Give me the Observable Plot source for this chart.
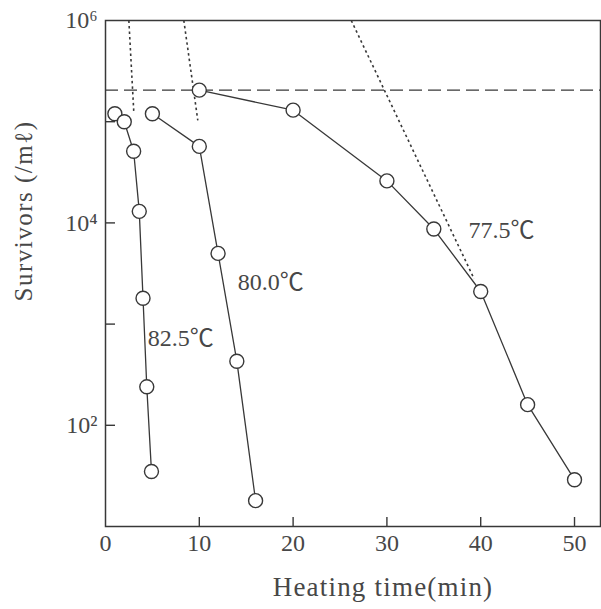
<!DOCTYPE html>
<html><head><meta charset="utf-8">
<script src="https://cdn.jsdelivr.net/npm/d3@7"></script>
<script src="https://cdn.jsdelivr.net/npm/@observablehq/plot@0.6"></script>
<style>body{margin:0;background:#fff} svg{display:block}</style>
</head><body><div id="chart"></div>
<script>
// Survivor curves (survivors per mL vs heating time, min)
const time825 = [1, 2, 3, 3.6, 4, 4.4, 4.9];
const surv825 = [1.2e5, 1.0e5, 5.1e4, 1.3e4, 1.8e3, 240, 35];
const time800 = [5, 10, 12, 14, 16];
const surv800 = [1.2e5, 5.7e4, 5e3, 430, 18];
const time775 = [10, 20, 30, 35, 40, 45, 50];
const surv775 = [2.05e5, 1.3e5, 2.6e4, 8.7e3, 2.1e3, 160, 29];
const initialCount = 2.05e5;
// extrapolated (dotted) lines: start and end points
const dotStartTime = [2.49, 8.35, 26.2];
const dotStartSurv = [1e6, 1e6, 1e6];
const dotEndTime = [3.02, 9.84, 39.3];
const dotEndSurv = [1.23e5, 1.03e5, 2.8e3];
// curve labels
const curveNames = ["82.5℃", "80.0℃", "77.5℃"];
const labelTime = [4.5, 14.1, 38.7];
const labelSurv = [730, 2.6e3, 8.5e3];
// axes
const xTickLabels = [0, 10, 20, 30, 40, 50];
const xTickMarks = [10, 20, 30, 40, 50];
const yTickLabels = [1e2, 1e4, 1e6];
const yTickMarks = [1e2, 1e3, 1e4, 1e5];
const supDigits = {"2": "²", "4": "⁴", "6": "⁶"};
const xTitle = "Heating time(min)";
const yTitle = "Survivors (/mℓ)";

const toRows = (ts, ss) => ts.map((t, i) => ({t, s: ss[i]}));
const d825 = toRows(time825, surv825);
const d800 = toRows(time800, surv800);
const d775 = toRows(time775, surv775);
const dotted = dotStartTime.map((t, i) => ({x1: t, y1: dotStartSurv[i], x2: dotEndTime[i], y2: dotEndSurv[i]}));
const labels = curveNames.map((n, i) => ({n, t: labelTime[i], s: labelSurv[i]}));

const ink = "#383838";
const textInk = "#474747";
const lineStyle = {x: "t", y: "s", stroke: ink, strokeWidth: 1.3};
const dotStyle = {x: "t", y: "s", r: 7, fill: "white", stroke: ink, strokeWidth: 1.4};

const chart = Plot.plot({
  width: 601, height: 609,
  marginLeft: 105, marginRight: 1, marginTop: 20, marginBottom: 83,
  style: {fontFamily: "'Liberation Serif', 'Noto Sans CJK JP', 'DejaVu Serif', serif", fontSize: "24px", color: textInk, background: "white"},
  x: {domain: [0, 52.77], label: null},
  y: {type: "log", domain: [10, 1e6], label: null},
  marks: [
    Plot.ruleY([initialCount], {stroke: ink, strokeWidth: 1.3, strokeDasharray: "13,6"}),
    Plot.link(dotted, {x1: "x1", y1: "y1", x2: "x2", y2: "y2", stroke: ink, strokeWidth: 1.6, strokeDasharray: "2.5,3"}),
    Plot.line(d825, lineStyle),
    Plot.line(d800, lineStyle),
    Plot.line(d775, lineStyle),
    Plot.dot(d825, dotStyle),
    Plot.dot(d800, dotStyle),
    Plot.dot(d775, dotStyle),
    Plot.text(labels, {x: "t", y: "s", text: "n", textAnchor: "start", fontSize: 24, fill: textInk}),
    Plot.axisX({ticks: xTickMarks, tickSize: -9, tickFormat: () => "", label: null, stroke: ink, strokeWidth: 1.4}),
    Plot.axisX({ticks: xTickLabels, tickSize: 0, tickPadding: 7, tickFormat: d => String(d), label: null}),
    Plot.axisY({ticks: yTickMarks, tickSize: -10, tickFormat: () => "", label: null, stroke: ink, strokeWidth: 1.4}),
    Plot.axisY({ticks: yTickLabels, tickSize: 0, tickPadding: 8, label: null,
      tickFormat: d => "10" + supDigits[String(Math.round(Math.log10(d)))]}),
    Plot.frame({stroke: ink, strokeWidth: 1.5}),
    Plot.text([xTitle], {frameAnchor: "bottom", dx: 30, dy: 69, fontSize: 27, fill: textInk}),
    Plot.text([yTitle], {frameAnchor: "left", dx: -82, dy: 28, rotate: -90, fontSize: 25, fill: textInk})
  ]
});
d3.select(chart).selectAll("text").filter(function() { return this.textContent === xTitle; }).attr("letter-spacing", "1.2px");
d3.select(chart).selectAll("text").filter(function() { return this.textContent === yTitle; }).attr("letter-spacing", "1.5px");
document.getElementById("chart").appendChild(chart);
</script>
</body></html>
